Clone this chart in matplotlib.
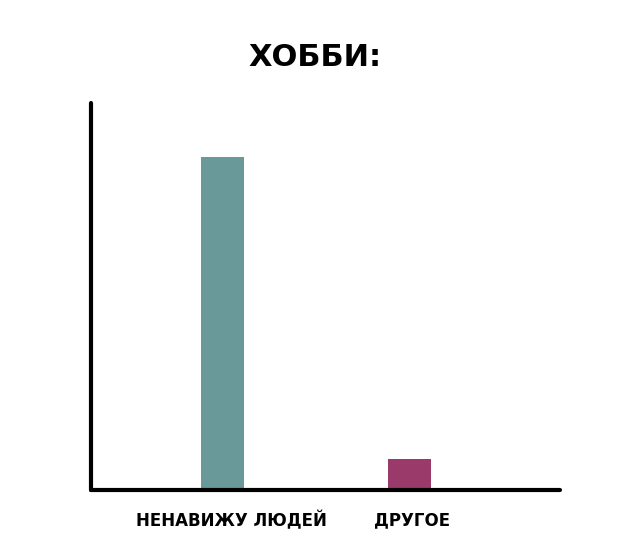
import matplotlib
matplotlib.use("Agg")
import matplotlib.pyplot as plt
from matplotlib.transforms import ScaledTranslation

categories = ["НЕНАВИЖУ ЛЮДЕЙ", "ДРУГОЕ"]
values = [86, 8]
colors = ["#699a99", "#993a6a"]


def plot_chart():
    fig = plt.figure(figsize=(6.3, 5.5), dpi=100)
    ax = fig.add_axes([0.1444, 0.1091, 0.7444, 0.7036])

    ax.bar(range(len(categories)), values, width=0.23, color=colors)
    ax.set_xlim(-0.707, 1.805)
    ax.set_ylim(0, 100)

    ax.set_xticks(range(len(categories)))
    ax.set_xticklabels(categories, fontsize=12, fontweight="bold",
                       family="DejaVu Sans")
    ax.tick_params(axis="x", length=0, pad=15)
    ax.set_yticks([])

    # labels in the original sit a bit right of the bar centres
    shifts = [0.08, 0.02]
    for lbl, dx in zip(ax.get_xticklabels(), shifts):
        lbl.set_transform(lbl.get_transform() +
                          ScaledTranslation(dx, 0, fig.dpi_scale_trans))

    for side in ["top", "right"]:
        ax.spines[side].set_visible(False)
    for side in ["left", "bottom"]:
        ax.spines[side].set_linewidth(3)
        ax.spines[side].set_capstyle("round")

    fig.text(0.5, 0.896, "ХОББИ:", ha="center", va="center",
             fontsize=22, fontweight="bold", family="DejaVu Sans")

    fig.savefig("out.png", dpi=100)


if __name__ == "__main__":
    plot_chart()
